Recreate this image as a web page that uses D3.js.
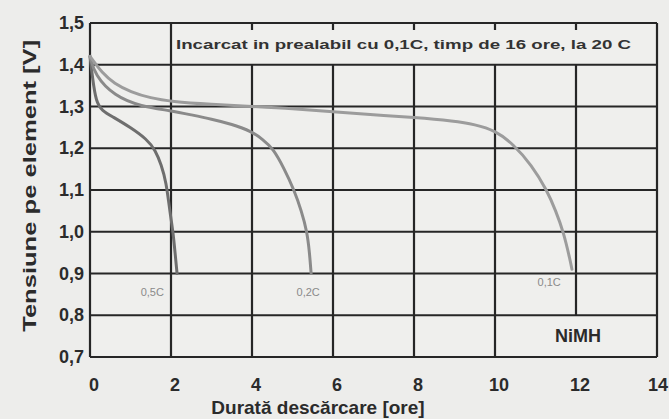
<!DOCTYPE html>
<html>
<head>
<meta charset="utf-8">
<script src="https://cdn.jsdelivr.net/npm/d3@7"></script>
<style>
  body { margin: 0; background: #ededeb; }
  svg { display: block; font-family: "Liberation Sans", Arial, sans-serif; }
</style>
</head>
<body>
<svg id="chart" width="669" height="419"></svg>
<script>
// curve data: [hours, volts]
const curve05C = [[0, 1.42], [0.06, 1.37], [0.15, 1.31], [0.3, 1.29], [0.55, 1.276], [1.0, 1.25], [1.4, 1.222],
  [1.62, 1.195], [1.76, 1.16], [1.88, 1.12], [1.97, 1.05], [2.05, 1.0], [2.1, 0.95], [2.15, 0.9]];
const curve02C = [[0, 1.42], [0.12, 1.375], [0.6, 1.325], [1.26, 1.30], [2, 1.29], [2.5, 1.28], [3, 1.27],
  [3.5, 1.258], [4.0, 1.24], [4.25, 1.222], [4.52, 1.2], [4.8, 1.15], [5.04, 1.1], [5.22, 1.05], [5.36, 1.0],
  [5.42, 0.95], [5.46, 0.9]];
const curve01C = [[0, 1.42], [0.3, 1.38], [0.6, 1.355], [1.0, 1.335], [1.5, 1.32], [2, 1.312], [3, 1.305], [4, 1.30],
  [5, 1.295], [6, 1.287], [7, 1.28], [8, 1.274], [9, 1.265], [9.5, 1.257], [10, 1.243], [10.45, 1.21], [10.9, 1.16],
  [11.28, 1.1], [11.5, 1.05], [11.69, 1.0], [11.86, 0.93], [11.9, 0.91]];

const series = [
  { name: "0,5C", values: curve05C, color: "#6e6e6e", labelAt: [1.25, 0.845] },
  { name: "0,2C", values: curve02C, color: "#8a8a8a", labelAt: [5.1, 0.845] },
  { name: "0,1C", values: curve01C, color: "#9c9c9c", labelAt: [11.05, 0.87] }
];

const xTicks = [0, 2, 4, 6, 8, 10, 12, 14];
const yTicks = [0.7, 0.8, 0.9, 1.0, 1.1, 1.2, 1.3, 1.4, 1.5];

const svg = d3.select("#chart");
const x = d3.scaleLinear().domain([0, 14]).range([90, 657]);
const y = d3.scaleLinear().domain([0.7, 1.5]).range([357, 23]);
const fmt = v => d3.format(".1f")(v).replace(".", ",");

svg.append("rect").attr("x", x(0)).attr("y", y(1.5))
  .attr("width", x(14) - x(0)).attr("height", y(0.7) - y(1.5))
  .attr("fill", "#efefed");

// horizontal grid
const grid = svg.append("g").attr("stroke", "#262626").attr("stroke-width", 2.2);
yTicks.forEach(t => {
  grid.append("line")
    .attr("x1", x(0)).attr("x2", x(14))
    .attr("y1", y(t)).attr("y2", y(t));
});

// vertical grid - lines past 2 h stop under the note, 12 h stops above the NiMH box
xTicks.forEach(t => {
  const top = t <= 2 || t === 14 ? 1.5 : 1.4;
  const bottom = t === 12 ? 0.8 : 0.7;
  grid.append("line")
    .attr("x1", x(t)).attr("x2", x(t))
    .attr("y1", y(top)).attr("y2", y(bottom));
  if (top === 1.4) {
    grid.append("line")
      .attr("x1", x(t)).attr("x2", x(t))
      .attr("y1", y(1.5)).attr("y2", y(1.5) + 7);
  }
});

// curves
const line = d3.line().x(d => x(d[0])).y(d => y(d[1])).curve(d3.curveBasis);
series.forEach(s => {
  svg.append("path")
    .datum(s.values)
    .attr("d", line)
    .attr("fill", "none")
    .attr("stroke", s.color)
    .attr("stroke-width", 3)
    .attr("stroke-linecap", "round");
  svg.append("text")
    .attr("x", x(s.labelAt[0])).attr("y", y(s.labelAt[1]))
    .attr("font-size", 11).attr("fill", "#8a8a8a")
    .text(s.name);
});

// tick labels
svg.append("g").selectAll("text").data(yTicks).join("text")
  .attr("x", 84).attr("y", d => y(d) + 6)
  .attr("text-anchor", "end")
  .attr("font-size", 18).attr("font-weight", "bold").attr("fill", "#2b2b2b")
  .text(fmt);

svg.append("g").selectAll("text").data(xTicks).join("text")
  .attr("x", d => d === 14 ? 668 : x(d) + 4).attr("y", 391)
  .attr("text-anchor", d => d === 14 ? "end" : "middle")
  .attr("font-size", 18).attr("font-weight", "bold").attr("fill", "#2b2b2b")
  .text(d => d);

// titles
svg.append("text")
  .attr("x", 318).attr("y", 414)
  .attr("text-anchor", "middle")
  .attr("font-size", 19).attr("font-weight", "bold").attr("fill", "#2b2b2b")
  .text("Durată descărcare [ore]");

svg.append("text")
  .attr("transform", `translate(36, ${y(1.11)}) rotate(-90)`)
  .attr("text-anchor", "middle")
  .attr("font-size", 19).attr("font-weight", "bold").attr("fill", "#2b2b2b")
  .attr("textLength", 292).attr("lengthAdjust", "spacingAndGlyphs")
  .text("Tensiune pe element [V]");

svg.append("text")
  .attr("x", x(2) + 5).attr("y", y(1.45) + 5)
  .attr("font-size", 12.5).attr("font-weight", "bold").attr("fill", "#333")
  .attr("textLength", 455).attr("lengthAdjust", "spacingAndGlyphs")
  .text("Incarcat in prealabil cu 0,1C, timp de 16 ore, la 20 C");

svg.append("text")
  .attr("x", x(12) + 2).attr("y", y(0.75) + 6)
  .attr("text-anchor", "middle")
  .attr("font-size", 18).attr("font-weight", "bold").attr("fill", "#2b2b2b")
  .text("NiMH");
</script>
</body>
</html>
